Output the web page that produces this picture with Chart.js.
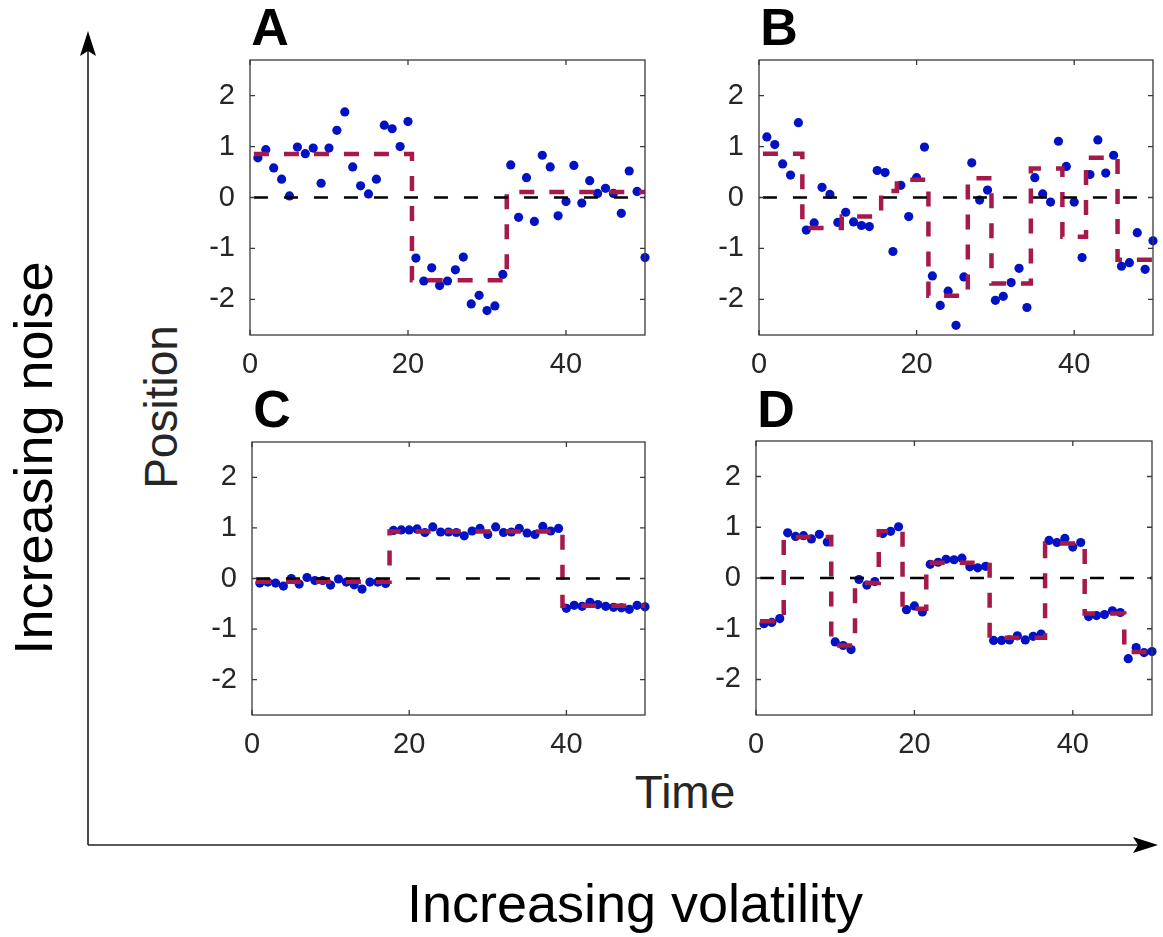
<!DOCTYPE html>
<html>
<head>
<meta charset="utf-8">
<title>Position vs time</title>
<script src="https://cdn.jsdelivr.net/npm/chart.js@4.4.0/dist/chart.umd.min.js"></script>
<style>
  body { margin: 0; background: #fff; width: 1163px; height: 937px; position: relative; overflow: hidden;
         font-family: "Liberation Sans", Arial, Helvetica, sans-serif; }
  canvas { position: absolute; }
  .lbl { position: absolute; color: #262626; line-height: 1; white-space: nowrap; transform: translate(-50%, -50%); }
  .big { color: #000; font-size: 54px; }
  .mid { font-size: 46px; }
  .rot { transform: translate(-50%, -50%) rotate(-90deg); }
  .letter { position: absolute; font-weight: bold; font-size: 52px; color: #000; line-height: 1; transform: translate(-50%, -50%); }
</style>
</head>
<body>

<svg width="1163" height="937" style="position:absolute;left:0;top:0">
  <line x1="88" y1="845" x2="88" y2="45" stroke="#222" stroke-width="1.6"/>
  <path d="M88,31 L96,56 L88,51 L80,56 Z" fill="#000"/>
  <line x1="88" y1="845" x2="1145" y2="845" stroke="#222" stroke-width="1.6"/>
  <path d="M1158,845 L1133,837 L1138,845 L1133,853 Z" fill="#000"/>
</svg>

<canvas id="panelA"></canvas>
<canvas id="panelB"></canvas>
<canvas id="panelC"></canvas>
<canvas id="panelD"></canvas>

<div class="letter" style="left:270px;top:27px">A</div>
<div class="letter" style="left:779px;top:27px">B</div>
<div class="letter" style="left:272px;top:409px">C</div>
<div class="letter" style="left:776px;top:409px">D</div>

<div class="lbl big rot" style="left:33px;top:458px">Increasing noise</div>
<div class="lbl mid rot" style="left:161px;top:407px">Position</div>
<div class="lbl mid" style="left:685px;top:792px">Time</div>
<div class="lbl big" style="left:635px;top:903px">Increasing volatility</div>

<script>
// time axis and ticks
const timeSteps = [1, 2, 3, 4, 5, 6, 7, 8, 9, 10,
                   11, 12, 13, 14, 15, 16, 17, 18, 19, 20,
                   21, 22, 23, 24, 25, 26, 27, 28, 29, 30,
                   31, 32, 33, 34, 35, 36, 37, 38, 39, 40,
                   41, 42, 43, 44, 45, 46, 47, 48, 49, 50];
const xTicks = [0, 20, 40];
const yTicks = [-2, -1, 0, 1, 2];
const zeroLineX = [0.5, 50.5];

// A: observations and inferred position (step edges + levels)
const posA = [0.78, 0.94, 0.58, 0.36, 0.03, 0.99, 0.86, 0.97, 0.28, 0.97,
              1.32, 1.68, 0.60, 0.23, 0.07, 0.36, 1.42, 1.35, 1.00, 1.49,
              -1.19, -1.64, -1.38, -1.73, -1.64, -1.42, -1.17, -2.09, -1.92, -2.22,
              -2.13, -1.51, 0.64, -0.39, 0.39, -0.47, 0.83, 0.60, -0.36, -0.08,
              0.63, -0.11, 0.33, 0.08, 0.18, 0.08, -0.31, 0.52, 0.12, -1.18];
const edgesA = [0.5, 20.5, 32.5, 50.5];
const levelsA = [0.855, -1.625, 0.11];

// B
const posB = [1.19, 1.04, 0.66, 0.44, 1.47, -0.64, -0.50, 0.20, 0.06, -0.49,
              -0.29, -0.48, -0.55, -0.57, 0.53, 0.49, -1.06, 0.24, -0.375, 0.39,
              0.99, -1.54, -2.12, -1.84, -2.51, -1.56, 0.68, -0.05, 0.145, -2.02,
              -1.94, -1.67, -1.39, -2.16, 0.39, 0.07, -0.09, 1.105, 0.61, -0.09,
              -1.18, 0.45, 1.13, 0.48, 0.83, -1.35, -1.28, -0.69, -1.41, -0.85];
const edgesB = [0.5, 5.5, 10.5, 15.5, 17.5, 21.5, 26.5, 29.5, 34.5, 38.5, 41.5, 45.5, 50.5];
const levelsB = [0.86, -0.6, -0.375, 0.13, 0.35, -1.93, 0.38, -1.69, 0.57, -0.77, 0.78, -1.22];

// C
const posC = [-0.09, -0.07, -0.09, -0.15, 0.0, -0.11, 0.02, -0.04, -0.04, -0.13,
              -0.01, -0.07, -0.125, -0.21, -0.07, -0.07, -0.10, 0.95, 0.96, 0.96,
              0.98, 0.91, 1.02, 0.92, 0.92, 0.91, 0.845, 0.94, 0.99, 0.87,
              1.02, 0.91, 0.92, 0.99, 0.90, 0.87, 1.03, 0.94, 0.99, -0.59,
              -0.53, -0.55, -0.47, -0.515, -0.55, -0.57, -0.58, -0.61, -0.53, -0.56];
const edgesC = [0.5, 17.5, 39.5, 50.5];
const levelsC = [-0.065, 0.93, -0.54];

// D
const posD = [-0.90, -0.875, -0.80, 0.89, 0.82, 0.835, 0.77, 0.86, 0.71, -1.26,
              -1.33, -1.41, -0.03, -0.14, -0.07, 0.875, 0.92, 1.01, -0.625, -0.55,
              -0.67, 0.27, 0.31, 0.37, 0.36, 0.39, 0.22, 0.20, 0.23, -1.23,
              -1.23, -1.22, -1.14, -1.22, -1.15, -1.105, 0.74, 0.70, 0.78, 0.61,
              0.70, -0.76, -0.74, -0.72, -0.645, -0.68, -1.59, -1.37, -1.47, -1.45];
const edgesD = [0.5, 3.5, 9.5, 12.5, 15.5, 18.5, 21.5, 29.5, 36.5, 41.5, 46.5, 50.5];
const levelsD = [-0.85, 0.81, -1.33, -0.10, 0.92, -0.605, 0.30, -1.18, 0.68, -0.70, -1.46];

const FONT = '"Liberation Sans", Arial, Helvetica, sans-serif';
const TEXT_COLOR = '#262626';
const AXIS_COLOR = '#3a3a3a';
const DOT_COLOR = '#0012c3';
const STEP_COLOR = '#a6194b';

// step line: each level starts at its edge
function stepPoints(edges, levels) {
    const pts = levels.map((v, i) => ({x: edges[i], y: v}));
    pts.push({x: edges[edges.length - 1], y: levels[levels.length - 1]});
    return pts;
}

// matlab style box with inward ticks
const boxTicks = {
    id: 'boxTicks',
    afterDatasetsDraw(chart) {
        const {ctx, chartArea: a} = chart;
        const x = chart.scales.x, y = chart.scales.y;
        const len = 5;
        ctx.save();
        ctx.strokeStyle = AXIS_COLOR;
        ctx.lineWidth = 1.3;
        ctx.strokeRect(a.left, a.top, a.right - a.left, a.bottom - a.top);
        ctx.beginPath();
        x.ticks.forEach(t => {
            const px = x.getPixelForValue(t.value);
            ctx.moveTo(px, a.bottom); ctx.lineTo(px, a.bottom - len);
            ctx.moveTo(px, a.top); ctx.lineTo(px, a.top + len);
        });
        y.ticks.forEach(t => {
            const py = y.getPixelForValue(t.value);
            ctx.moveTo(a.left, py); ctx.lineTo(a.left + len, py);
            ctx.moveTo(a.right, py); ctx.lineTo(a.right - len, py);
        });
        ctx.stroke();
        ctx.restore();
    }
};

function makePanel(id, area, values, edges, levels) {
    const padTop = 35, padRight = 10, yAxisW = 60, xAxisH = 45;
    const canvas = document.getElementById(id);
    canvas.width = area.r - area.l + yAxisW + padRight;
    canvas.height = area.b - area.t + padTop + xAxisH;
    canvas.style.left = (area.l - yAxisW) + 'px';
    canvas.style.top = (area.t - padTop) + 'px';

    const tickFont = {family: FONT, size: 29};

    new Chart(canvas.getContext('2d'), {
        type: 'scatter',
        data: {
            datasets: [
                {
                    // zero reference
                    type: 'line',
                    data: zeroLineX.map(v => ({x: v, y: 0})),
                    borderColor: '#000',
                    borderWidth: 2.5,
                    borderDash: [14, 16],
                    pointRadius: 0,
                    order: 0
                },
                {
                    type: 'line',
                    data: stepPoints(edges, levels),
                    stepped: 'before',
                    borderColor: STEP_COLOR,
                    borderWidth: 4.5,
                    borderDash: [15, 15],
                    borderCapStyle: 'butt',
                    pointRadius: 0,
                    order: 1
                },
                {
                    data: timeSteps.map((t, i) => ({x: t, y: values[i]})),
                    backgroundColor: DOT_COLOR,
                    borderWidth: 0,
                    pointRadius: 4.6,
                    clip: false,
                    order: 2
                }
            ]
        },
        options: {
            responsive: false,
            animation: false,
            events: [],
            layout: {padding: {top: padTop, right: padRight, left: 0, bottom: 0}},
            plugins: {legend: {display: false}, tooltip: {enabled: false}},
            scales: {
                x: {
                    type: 'linear',
                    min: 0,
                    max: 50,
                    afterBuildTicks: s => { s.ticks = xTicks.map(v => ({value: v})); },
                    afterFit: s => { s.height = xAxisH; s.paddingLeft = 0; s.paddingRight = 0; },
                    grid: {display: false, drawTicks: false},
                    border: {display: false},
                    ticks: {font: tickFont, color: TEXT_COLOR, padding: 13, maxRotation: 0, autoSkip: false}
                },
                y: {
                    min: -2.7,
                    max: 2.7,
                    afterBuildTicks: s => { s.ticks = yTicks.map(v => ({value: v})); },
                    afterFit: s => { s.width = yAxisW; s.paddingTop = 0; s.paddingBottom = 0; },
                    grid: {display: false, drawTicks: false},
                    border: {display: false},
                    ticks: {font: tickFont, color: TEXT_COLOR, padding: 15}
                }
            }
        },
        plugins: [boxTicks]
    });
}

makePanel('panelA', {l: 250, r: 645, t: 60, b: 335}, posA, edgesA, levelsA);
makePanel('panelB', {l: 759, r: 1153, t: 60, b: 335}, posB, edgesB, levelsB);
makePanel('panelC', {l: 252, r: 645, t: 442, b: 715}, posC, edgesC, levelsC);
makePanel('panelD', {l: 756, r: 1152, t: 441, b: 715}, posD, edgesD, levelsD);
</script>
</body>
</html>
